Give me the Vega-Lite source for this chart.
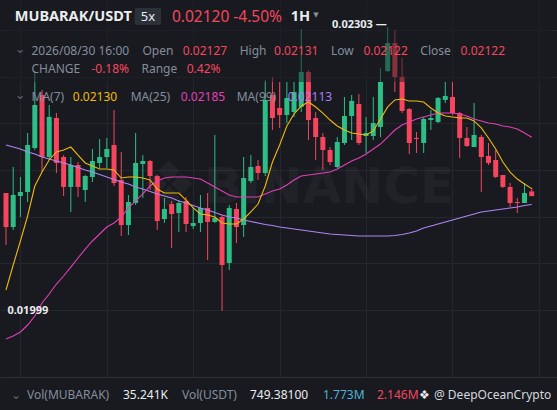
{
"$schema": "https://vega.github.io/schema/vega-lite/v6.json",
"background": "#181a20",
"padding": 0,
"spacing": 0,
"bounds": "flush",
"resolve": {"scale": {"color": "independent"}},
"config": {"view": {"stroke": null}, "font": "Noto Sans", "text": {"font": "Noto Sans"}},
"datasets": {
"k": [
{"i":0,"o":0.021253,"h":0.021253,"l":0.020696,"c":0.020889,"m7":0.020214,"m25":0.019689,"m99":0.021768},
{"i":1,"o":0.020889,"h":0.021532,"l":0.020857,"c":0.021232,"m7":0.020482,"m25":0.019721,"m99":0.021746},
{"i":2,"o":0.021221,"h":0.021425,"l":0.020996,"c":0.021264,"m7":0.020739,"m25":0.019764,"m99":0.021725},
{"i":3,"o":0.021264,"h":0.021896,"l":0.021157,"c":0.021768,"m7":0.021007,"m25":0.019839,"m99":0.021693},
{"i":4,"o":0.021735,"h":0.022550,"l":0.021714,"c":0.022196,"m7":0.021328,"m25":0.019935,"m99":0.021671},
{"i":5,"o":0.022303,"h":0.022357,"l":0.021478,"c":0.021639,"m7":0.021478,"m25":0.020075,"m99":0.021639},
{"i":6,"o":0.021639,"h":0.022196,"l":0.021607,"c":0.022068,"m7":0.021607,"m25":0.020171,"m99":0.021618},
{"i":7,"o":0.022057,"h":0.022110,"l":0.021468,"c":0.021575,"m7":0.021693,"m25":0.020278,"m99":0.021596},
{"i":8,"o":0.021639,"h":0.021660,"l":0.021221,"c":0.021318,"m7":0.021714,"m25":0.020364,"m99":0.021575},
{"i":9,"o":0.021318,"h":0.021639,"l":0.021050,"c":0.021553,"m7":0.021746,"m25":0.020460,"m99":0.021553},
{"i":10,"o":0.021553,"h":0.021585,"l":0.021210,"c":0.021318,"m7":0.021660,"m25":0.020557,"m99":0.021526},
{"i":11,"o":0.021285,"h":0.021446,"l":0.021157,"c":0.021435,"m7":0.021575,"m25":0.020653,"m99":0.021500},
{"i":12,"o":0.021425,"h":0.021725,"l":0.021371,"c":0.021596,"m7":0.021543,"m25":0.020739,"m99":0.021478},
{"i":13,"o":0.021575,"h":0.021832,"l":0.021521,"c":0.021639,"m7":0.021510,"m25":0.020814,"m99":0.021451},
{"i":14,"o":0.021639,"h":0.021843,"l":0.021521,"c":0.021725,"m7":0.021510,"m25":0.020889,"m99":0.021425},
{"i":15,"o":0.021768,"h":0.022143,"l":0.021328,"c":0.021360,"m7":0.021500,"m25":0.020932,"m99":0.021398},
{"i":16,"o":0.021393,"h":0.021693,"l":0.020793,"c":0.020910,"m7":0.021414,"m25":0.020996,"m99":0.021371},
{"i":17,"o":0.020910,"h":0.021232,"l":0.020803,"c":0.021157,"m7":0.021425,"m25":0.021093,"m99":0.021350},
{"i":18,"o":0.021146,"h":0.021896,"l":0.021125,"c":0.021575,"m7":0.021425,"m25":0.021168,"m99":0.021318},
{"i":19,"o":0.021564,"h":0.021660,"l":0.021200,"c":0.021596,"m7":0.021414,"m25":0.021243,"m99":0.021296},
{"i":20,"o":0.021596,"h":0.021607,"l":0.021285,"c":0.021435,"m7":0.021393,"m25":0.021328,"m99":0.021269},
{"i":21,"o":0.021435,"h":0.021446,"l":0.020857,"c":0.020953,"m7":0.021296,"m25":0.021382,"m99":0.021243},
{"i":22,"o":0.020975,"h":0.021200,"l":0.020932,"c":0.021082,"m7":0.021253,"m25":0.021414,"m99":0.021221},
{"i":23,"o":0.021135,"h":0.021168,"l":0.020664,"c":0.021028,"m7":0.021253,"m25":0.021425,"m99":0.021200},
{"i":24,"o":0.021039,"h":0.021178,"l":0.020835,"c":0.021146,"m7":0.021253,"m25":0.021425,"m99":0.021168},
{"i":25,"o":0.021168,"h":0.021210,"l":0.020835,"c":0.020921,"m7":0.021178,"m25":0.021425,"m99":0.021146},
{"i":26,"o":0.020900,"h":0.021103,"l":0.020868,"c":0.020932,"m7":0.021093,"m25":0.021414,"m99":0.021119},
{"i":27,"o":0.020932,"h":0.021232,"l":0.020835,"c":0.021093,"m7":0.021028,"m25":0.021403,"m99":0.021093},
{"i":28,"o":0.021093,"h":0.021253,"l":0.020535,"c":0.020943,"m7":0.021018,"m25":0.021360,"m99":0.021071},
{"i":29,"o":0.020943,"h":0.021875,"l":0.020932,"c":0.020985,"m7":0.020996,"m25":0.021318,"m99":0.021044},
{"i":30,"o":0.020996,"h":0.021018,"l":0.019990,"c":0.020482,"m7":0.020932,"m25":0.021275,"m99":0.021018},
{"i":31,"o":0.020503,"h":0.021125,"l":0.020428,"c":0.021093,"m7":0.020921,"m25":0.021232,"m99":0.020996},
{"i":32,"o":0.021082,"h":0.021146,"l":0.020718,"c":0.020889,"m7":0.020921,"m25":0.021210,"m99":0.020985},
{"i":33,"o":0.020910,"h":0.021639,"l":0.020782,"c":0.021414,"m7":0.020975,"m25":0.021210,"m99":0.020964},
{"i":34,"o":0.021382,"h":0.021660,"l":0.021360,"c":0.021532,"m7":0.021050,"m25":0.021210,"m99":0.020948},
{"i":35,"o":0.021543,"h":0.021607,"l":0.021393,"c":0.021468,"m7":0.021135,"m25":0.021210,"m99":0.020932},
{"i":36,"o":0.021468,"h":0.022464,"l":0.021435,"c":0.022250,"m7":0.021328,"m25":0.021243,"m99":0.020916},
{"i":37,"o":0.022303,"h":0.022496,"l":0.021928,"c":0.022057,"m7":0.021585,"m25":0.021275,"m99":0.020905},
{"i":38,"o":0.022164,"h":0.022443,"l":0.021950,"c":0.022089,"m7":0.021768,"m25":0.021296,"m99":0.020889},
{"i":39,"o":0.022089,"h":0.022443,"l":0.022003,"c":0.022271,"m7":0.021971,"m25":0.021339,"m99":0.020878},
{"i":40,"o":0.022121,"h":0.022443,"l":0.022068,"c":0.022335,"m7":0.022100,"m25":0.021393,"m99":0.020868},
{"i":41,"o":0.022175,"h":0.023010,"l":0.022121,"c":0.022550,"m7":0.022185,"m25":0.021435,"m99":0.020857},
{"i":42,"o":0.022550,"h":0.022571,"l":0.021821,"c":0.022035,"m7":0.022228,"m25":0.021446,"m99":0.020846},
{"i":43,"o":0.022057,"h":0.022121,"l":0.021607,"c":0.021853,"m7":0.022175,"m25":0.021457,"m99":0.020835},
{"i":44,"o":0.021853,"h":0.021896,"l":0.021500,"c":0.021714,"m7":0.022110,"m25":0.021468,"m99":0.020825},
{"i":45,"o":0.021714,"h":0.021746,"l":0.021553,"c":0.021585,"m7":0.022035,"m25":0.021478,"m99":0.020814},
{"i":46,"o":0.021532,"h":0.021853,"l":0.021521,"c":0.021800,"m7":0.021971,"m25":0.021510,"m99":0.020809},
{"i":47,"o":0.021789,"h":0.022282,"l":0.021768,"c":0.022078,"m7":0.021928,"m25":0.021553,"m99":0.020803},
{"i":48,"o":0.022078,"h":0.022303,"l":0.021821,"c":0.022239,"m7":0.021896,"m25":0.021596,"m99":0.020798},
{"i":49,"o":0.022207,"h":0.022314,"l":0.021768,"c":0.021789,"m7":0.021885,"m25":0.021628,"m99":0.020793},
{"i":50,"o":0.021864,"h":0.022068,"l":0.021682,"c":0.021896,"m7":0.021875,"m25":0.021671,"m99":0.020793},
{"i":51,"o":0.021864,"h":0.022282,"l":0.021821,"c":0.022003,"m7":0.021918,"m25":0.021725,"m99":0.020793},
{"i":52,"o":0.021960,"h":0.022592,"l":0.021853,"c":0.022443,"m7":0.022046,"m25":0.021778,"m99":0.020793},
{"i":53,"o":0.022560,"h":0.023030,"l":0.022550,"c":0.022860,"m7":0.022175,"m25":0.021853,"m99":0.020793},
{"i":54,"o":0.022860,"h":0.023000,"l":0.022335,"c":0.022496,"m7":0.022250,"m25":0.021928,"m99":0.020798},
{"i":55,"o":0.022496,"h":0.022700,"l":0.022110,"c":0.022132,"m7":0.022260,"m25":0.021982,"m99":0.020809},
{"i":56,"o":0.022153,"h":0.022164,"l":0.021671,"c":0.021789,"m7":0.022239,"m25":0.022014,"m99":0.020825},
{"i":57,"o":0.021843,"h":0.021907,"l":0.021682,"c":0.021832,"m7":0.022239,"m25":0.022046,"m99":0.020846},
{"i":58,"o":0.021789,"h":0.022068,"l":0.021682,"c":0.022046,"m7":0.022228,"m25":0.022068,"m99":0.020878},
{"i":59,"o":0.022035,"h":0.022143,"l":0.021928,"c":0.022057,"m7":0.022164,"m25":0.022089,"m99":0.020900},
{"i":60,"o":0.022014,"h":0.022282,"l":0.022003,"c":0.022271,"m7":0.022110,"m25":0.022110,"m99":0.020921},
{"i":61,"o":0.022250,"h":0.022443,"l":0.022218,"c":0.022293,"m7":0.022078,"m25":0.022110,"m99":0.020943},
{"i":62,"o":0.022282,"h":0.022443,"l":0.022089,"c":0.022110,"m7":0.022068,"m25":0.022110,"m99":0.020964},
{"i":63,"o":0.022110,"h":0.022121,"l":0.021628,"c":0.021843,"m7":0.022057,"m25":0.022100,"m99":0.020985},
{"i":64,"o":0.021843,"h":0.021960,"l":0.021746,"c":0.021757,"m7":0.022057,"m25":0.022078,"m99":0.021007},
{"i":65,"o":0.021746,"h":0.022218,"l":0.021746,"c":0.021875,"m7":0.022025,"m25":0.022046,"m99":0.021028},
{"i":66,"o":0.021853,"h":0.021875,"l":0.021264,"c":0.021639,"m7":0.021950,"m25":0.022025,"m99":0.021050},
{"i":67,"o":0.021650,"h":0.021789,"l":0.021553,"c":0.021575,"m7":0.021843,"m25":0.022003,"m99":0.021060},
{"i":68,"o":0.021607,"h":0.021714,"l":0.021414,"c":0.021425,"m7":0.021725,"m25":0.021993,"m99":0.021071},
{"i":69,"o":0.021446,"h":0.021446,"l":0.021307,"c":0.021318,"m7":0.021585,"m25":0.021971,"m99":0.021082},
{"i":70,"o":0.021318,"h":0.021360,"l":0.021103,"c":0.021146,"m7":0.021478,"m25":0.021960,"m99":0.021093},
{"i":71,"o":0.021157,"h":0.021200,"l":0.021039,"c":0.021146,"m7":0.021403,"m25":0.021939,"m99":0.021103},
{"i":72,"o":0.021146,"h":0.021360,"l":0.021146,"c":0.021253,"m7":0.021350,"m25":0.021896,"m99":0.021119},
{"i":73,"o":0.021270,"h":0.021310,"l":0.021220,"c":0.021220,"m7":0.021300,"m25":0.021850,"m99":0.021130}
],
"hdr": [
{"t":"MUBARAK/USDT","i":1.22,"p":0.023139,"k":"title"},
{"t":"1H","i":39.54,"p":0.023139,"k":"title"},
{"t":"0.02120 -4.50%","i":23.04,"p":0.023139,"k":"price"},
{"t":"5x","i":19.70,"p":0.023144,"k":"badge"},
{"t":"▼","i":42.68,"p":0.023160,"k":"tri"},
{"t":"0.02303 —","i":45.27,"p":0.023053,"k":"ext"},
{"t":"0.01999","i":0.2,"p":0.01999,"k":"ext"},
{"t":"⌄","i":1.22,"p":0.022800,"k":"dim"},
{"t":"2026/08/30 16:00","i":3.54,"p":0.022775,"k":"label"},
{"t":"Open","i":18.95,"p":0.022775,"k":"label"},
{"t":"0.02127","i":24.54,"p":0.022775,"k":"red"},
{"t":"High","i":32.45,"p":0.022775,"k":"label"},
{"t":"0.02131","i":37.22,"p":0.022775,"k":"red"},
{"t":"Low","i":45.13,"p":0.022775,"k":"label"},
{"t":"0.02122","i":49.63,"p":0.022775,"k":"red"},
{"t":"Close","i":57.54,"p":0.022775,"k":"label"},
{"t":"0.02122","i":63.13,"p":0.022775,"k":"red"},
{"t":"CHANGE","i":3.54,"p":0.022582,"k":"label"},
{"t":"-0.18%","i":11.86,"p":0.022582,"k":"red"},
{"t":"Range","i":18.81,"p":0.022582,"k":"label"},
{"t":"0.42%","i":25.09,"p":0.022582,"k":"red"},
{"t":"⌄","i":1.22,"p":0.022307,"k":"dim"},
{"t":"MA(7)","i":3.54,"p":0.022282,"k":"label"},
{"t":"0.02130","i":9.27,"p":0.022282,"k":"yellow"},
{"t":"MA(25)","i":17.31,"p":0.022282,"k":"label"},
{"t":"0.02185","i":24.27,"p":0.022282,"k":"magenta"},
{"t":"MA(99)","i":32.04,"p":0.022282,"k":"label"},
{"t":"0.02113","i":39.13,"p":0.022282,"k":"purple"}
],
"boxes": [
{"i0":-0.14,"i1":75.82,"p0":0.022442,"p1":0.023321,"k":"shade"},
{"i0":17.86,"i1":21.54,"p0":0.023053,"p1":0.023235,"k":"badge"}
],
"wm": [
{"t":"BINANCE","i":44.86,"p":0.021307,"k":"word"},
{"t":"❖","i":22.63,"p":0.021307,"k":"logo"}
],
"vol": [
{"t":"⌄","i":1.36,"k":"dim"},
{"t":"Vol(MUBARAK)","i":3.54,"k":"label"},
{"t":"35.241K","i":16.63,"k":"white"},
{"t":"Vol(USDT)","i":24.68,"k":"label"},
{"t":"749.38100","i":33.95,"k":"white"},
{"t":"1.773M","i":43.91,"k":"teal"},
{"t":"2.146M","i":51.27,"k":"red"},
{"t":"❖","i":57.0,"k":"white"},
{"t":"@ DeepOceanCrypto","i":59.04,"k":"brand"}
]
},
"vconcat": [
{
"width": 557, "height": 377,
"encoding": {
"x": {"field": "i", "type": "quantitative", "scale": {"domain": [-0.14, 75.82], "nice": false, "zero": false},
"axis": {"title": null, "grid": true, "gridColor": "#23272e", "labels": false, "ticks": false, "domain": true, "domainColor": "#2b3139", "values": [2,14,26,38,50,62,74]}}
},
"layer": [
{
"data": {"name": "wm"},
"transform": [{"filter": "datum.k == 'word'"}],
"mark": {"type": "text", "fontSize": 50, "fontWeight": "bold", "align": "center", "baseline": "middle", "fill": "#ffffff", "opacity": 0.035, "font": "DejaVu Sans"},
"encoding": {
"y": {"field": "p", "type": "quantitative", "scale": {"domain": [0.019282, 0.023321], "nice": false, "zero": false}, "axis": {"title": null, "grid": true, "gridColor": "#23272e", "labels": false, "ticks": false, "domain": false, "values": [0.02,0.0205,0.021,0.0215,0.022,0.0225,0.023]}},
"text": {"field": "t"}
}
},
{
"data": {"name": "wm"},
"transform": [{"filter": "datum.k == 'logo'"}],
"mark": {"type": "text", "fontSize": 64, "align": "center", "baseline": "middle", "fill": "#ffffff", "opacity": 0.04, "font": "DejaVu Sans"},
"encoding": {
"y": {"field": "p", "type": "quantitative"},
"text": {"field": "t"}
}
},
{
"data": {"name": "k"},
"mark": {"type": "rule", "strokeWidth": 1, "clip": true},
"encoding": {
"y": {"field": "l", "type": "quantitative"},
"y2": {"field": "h"},
"color": {"condition": {"test": "datum.c >= datum.o", "value": "#2ebd85"}, "value": "#f6465d"}
}
},
{
"data": {"name": "k"},
"mark": {"type": "bar", "width": 5, "clip": true},
"encoding": {
"y": {"field": "o", "type": "quantitative"},
"y2": {"field": "c"},
"color": {"condition": {"test": "datum.c >= datum.o", "value": "#2ebd85"}, "value": "#f6465d"}
}
},
{
"data": {"name": "k"},
"mark": {"type": "line", "strokeWidth": 1.1, "color": "#b084f5", "clip": true},
"encoding": {"y": {"field": "m99", "type": "quantitative"}}
},
{
"data": {"name": "k"},
"mark": {"type": "line", "strokeWidth": 1.1, "color": "#e040b4", "clip": true},
"encoding": {"y": {"field": "m25", "type": "quantitative"}}
},
{
"data": {"name": "k"},
"mark": {"type": "line", "strokeWidth": 1.1, "color": "#f0b90b", "clip": true},
"encoding": {"y": {"field": "m7", "type": "quantitative"}}
},
{
"data": {"name": "boxes"},
"transform": [{"filter": "datum.k == 'shade'"}],
"mark": {"type": "rect", "fill": "#181a20", "opacity": 0.5},
"encoding": {
"x": {"field": "i0", "type": "quantitative", "scale": {"domain": [-0.14, 75.82], "nice": false, "zero": false}},
"x2": {"field": "i1"},
"y": {"field": "p0", "type": "quantitative"},
"y2": {"field": "p1"}
}
},
{
"data": {"name": "boxes"},
"transform": [{"filter": "datum.k == 'badge'"}],
"mark": {"type": "rect", "fill": "#2b3139", "cornerRadius": 2},
"encoding": {
"x": {"field": "i0", "type": "quantitative", "scale": {"domain": [-0.14, 75.82], "nice": false, "zero": false}},
"x2": {"field": "i1"},
"y": {"field": "p0", "type": "quantitative"},
"y2": {"field": "p1"}
}
},
{
"data": {"name": "hdr"},
"transform": [{"filter": "datum.k == 'title'"}],
"mark": {"type": "text", "fontSize": 14.5, "fontWeight": "bold", "align": "left", "baseline": "middle", "fill": "#eaecef"},
"encoding": {"y": {"field": "p", "type": "quantitative"}, "text": {"field": "t"}}
},
{
"data": {"name": "hdr"},
"transform": [{"filter": "datum.k == 'price'"}],
"mark": {"type": "text", "fontSize": 15.5, "align": "left", "baseline": "middle", "fill": "#f6465d"},
"encoding": {"y": {"field": "p", "type": "quantitative"}, "text": {"field": "t"}}
},
{
"data": {"name": "hdr"},
"transform": [{"filter": "datum.k == 'badge'"}],
"mark": {"type": "text", "fontSize": 13, "align": "center", "baseline": "middle", "fill": "#eaecef"},
"encoding": {"y": {"field": "p", "type": "quantitative"}, "text": {"field": "t"}}
},
{
"data": {"name": "hdr"},
"transform": [{"filter": "datum.k == 'tri'"}],
"mark": {"type": "text", "fontSize": 7, "align": "left", "baseline": "middle", "fill": "#848e9c", "font": "DejaVu Sans"},
"encoding": {"y": {"field": "p", "type": "quantitative"}, "text": {"field": "t"}}
},
{
"data": {"name": "hdr"},
"transform": [{"filter": "datum.k == 'ext'"}],
"mark": {"type": "text", "fontSize": 11, "fontWeight": "bold", "align": "left", "baseline": "middle", "fill": "#eaecef"},
"encoding": {"y": {"field": "p", "type": "quantitative"}, "text": {"field": "t"}}
},
{
"data": {"name": "hdr"},
"transform": [{"filter": "datum.k == 'dim'"}],
"mark": {"type": "text", "fontSize": 13, "align": "left", "baseline": "middle", "fill": "#5e6673", "font": "DejaVu Sans"},
"encoding": {"y": {"field": "p", "type": "quantitative"}, "text": {"field": "t"}}
},
{
"data": {"name": "hdr"},
"transform": [{"filter": "indexof(['label','red','yellow','magenta','purple'], datum.k) >= 0"}],
"mark": {"type": "text", "fontSize": 12, "align": "left", "baseline": "middle"},
"encoding": {
"y": {"field": "p", "type": "quantitative"},
"text": {"field": "t"},
"color": {"field": "k", "type": "nominal", "legend": null, "scale": {"domain": ["label","red","yellow","magenta","purple"], "range": ["#848e9c","#f6465d","#f0b90b","#e040b4","#a880f2"]}}
}
}
]
},
{
"width": 557, "height": 33,
"data": {"name": "vol"},
"mark": {"type": "text", "fontSize": 12, "align": "left", "baseline": "middle", "dy": 1.5},
"encoding": {
"x": {"field": "i", "type": "quantitative", "scale": {"domain": [-0.14, 75.82], "nice": false, "zero": false}, "axis": null},
"text": {"field": "t"},
"color": {"field": "k", "type": "nominal", "legend": null, "scale": {"domain": ["dim","label","white","teal","red","brand"], "range": ["#5e6673","#848e9c","#eaecef","#4fb3d6","#f6465d","#d5d8de"]}}
}
}
]
}
